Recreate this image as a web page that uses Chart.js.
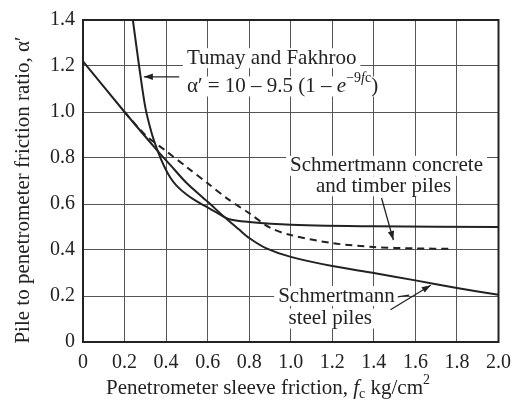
<!DOCTYPE html>
<html>
<head>
    <meta charset="UTF-8">
    <title>Pile to penetrometer friction ratio</title>
    <script src="https://cdn.jsdelivr.net/npm/chart.js@4/dist/chart.umd.min.js"></script>
    <style type="text/css">
        body { margin: 0; background: #fff; }
        #box { width: 520px; height: 404px; }
    </style>
</head>
<body>
    <div id="box"><canvas id="_canvas"></canvas></div>
    <script type="text/javascript">
        // values
        var xTicks = [0, 0.2, 0.4, 0.6, 0.8, 1.0, 1.2, 1.4, 1.6, 1.8, 2.0];
        var yTicks = [0, 0.2, 0.4, 0.6, 0.8, 1.0, 1.2, 1.4];

        // Tumay and Fakhroo
        var tumayX = [0.24, 0.27, 0.30, 0.33, 0.36, 0.39, 0.42, 0.45, 0.50, 0.55, 0.64, 0.70, 0.80, 1.00, 1.40, 2.00];
        var tumayY = [1.40, 1.20, 1.02, 0.91, 0.83, 0.765, 0.715, 0.68, 0.64, 0.61, 0.565, 0.535, 0.522, 0.51, 0.503, 0.50];

        // Schmertmann steel piles
        var steelX = [0, 0.20, 0.36, 0.42, 0.50, 0.60, 0.675, 0.75, 0.80, 0.88, 1.00, 1.20, 1.40, 1.60, 1.80, 2.00];
        var steelY = [1.22, 1.00, 0.83, 0.77, 0.69, 0.61, 0.548, 0.49, 0.452, 0.408, 0.37, 0.33, 0.30, 0.268, 0.235, 0.205];

        // Schmertmann concrete and timber piles (dashed)
        var concreteX = [0.20, 0.30, 0.40, 0.50, 0.60, 0.70, 0.80, 0.90, 1.00, 1.20, 1.40, 1.60, 1.77];
        var concreteY = [1.00, 0.90, 0.83, 0.76, 0.69, 0.62, 0.56, 0.497, 0.465, 0.43, 0.413, 0.407, 0.405];

        function pts(xs, ys) {
            var out = [];
            for (var i = 0; i < xs.length; i++) out.push({ x: xs[i], y: ys[i] });
            return out;
        }

        var FONT = "'Liberation Serif', 'Times New Roman', serif";
        var INK = "#222";

        function lineSet(label, xs, ys, dash) {
            return {
                label: label,
                data: pts(xs, ys),
                borderColor: INK,
                borderWidth: 2,
                borderDash: dash || [],
                pointRadius: 0,
                fill: false,
                tension: 0.3
            };
        }

        // text pieces: [text, style]; style 'n' normal, 'i' italic, 'sub', 'sup', 'isup'
        function fontFor(style, size) {
            var s = size;
            if (style == 'sub' || style == 'sup' || style == 'isup') s = Math.round(size * 0.66);
            var it = (style == 'i' || style == 'isup') ? 'italic ' : '';
            return it + s + "px " + FONT;
        }
        function runWidth(ctx, parts, size) {
            var w = 0;
            parts.forEach(function (p) {
                ctx.font = fontFor(p[1], size);
                w += ctx.measureText(p[0]).width;
            });
            return w;
        }
        function drawRun(ctx, parts, x, y, size, align) {
            var w = runWidth(ctx, parts, size);
            var cx = x;
            if (align == 'center') cx = x - w / 2;
            ctx.textBaseline = 'middle';
            ctx.textAlign = 'left';
            parts.forEach(function (p) {
                ctx.font = fontFor(p[1], size);
                var dy = 0;
                if (p[1] == 'sub') dy = size * 0.28;
                if (p[1] == 'sup' || p[1] == 'isup') dy = -size * 0.38;
                ctx.fillText(p[0], cx, y + dy);
                cx += ctx.measureText(p[0]).width;
            });
            return w;
        }

        function arrow(ctx, x1, y1, x2, y2) {
            ctx.beginPath();
            ctx.moveTo(x1, y1);
            ctx.lineTo(x2, y2);
            ctx.stroke();
            var a = Math.atan2(y2 - y1, x2 - x1);
            var L = 9, W = 3.2;
            ctx.beginPath();
            ctx.moveTo(x2, y2);
            ctx.lineTo(x2 - L * Math.cos(a) + W * Math.sin(a), y2 - L * Math.sin(a) - W * Math.cos(a));
            ctx.lineTo(x2 - L * Math.cos(a) - W * Math.sin(a), y2 - L * Math.sin(a) + W * Math.cos(a));
            ctx.closePath();
            ctx.fill();
        }

        // annotation positions in data units (f, alpha)
        var notes = [
            { parts: [["Tumay and Fakhroo", 'n']], f: 0.50, a: 1.234, align: 'left' },
            { parts: [["\u03b1\u2032 = 10 \u2013 9.5 (1 \u2013 ", 'n'], ["e", 'i'], ["\u22129", 'sup'], ["f", 'isup'], ["c", 'sup'], [")", 'n']], f: 0.50, a: 1.111, align: 'left' },
            { parts: [["Schmertmann concrete", 'n']], f: 1.461, a: 0.766, align: 'center' },
            { parts: [["and timber piles", 'n']], f: 1.447, a: 0.677, align: 'center' },
            { parts: [["Schmertmann", 'n']], f: 1.22, a: 0.20, align: 'center' },
            { parts: [["steel piles", 'n']], f: 1.19, a: 0.102, align: 'center' }
        ];
        var arrows = [
            [0.463, 1.153, 0.293, 1.153],
            [1.437, 0.626, 1.494, 0.443],
            [1.48, 0.14, 1.674, 0.247]
        ];
        var NOTE_SIZE = 21;

        var notePlugin = {
            id: 'notes',
            beforeDatasetsDraw: function (chart) {
                var ctx = chart.ctx, xs = chart.scales.x, ys = chart.scales.y;
                ctx.save();
                ctx.fillStyle = '#fff';
                notes.forEach(function (n) {
                    var w = runWidth(ctx, n.parts, NOTE_SIZE);
                    var x = xs.getPixelForValue(n.f), y = ys.getPixelForValue(n.a);
                    if (n.align == 'center') x -= w / 2;
                    ctx.fillRect(x - 4, y - 10, w + 8, 20);
                });
                ctx.restore();
            },
            afterDatasetsDraw: function (chart) {
                var ctx = chart.ctx, xs = chart.scales.x, ys = chart.scales.y;
                ctx.save();
                ctx.fillStyle = INK;
                ctx.strokeStyle = INK;
                ctx.lineWidth = 1.3;
                notes.forEach(function (n) {
                    drawRun(ctx, n.parts, xs.getPixelForValue(n.f), ys.getPixelForValue(n.a), NOTE_SIZE, n.align);
                });
                arrows.forEach(function (r) {
                    arrow(ctx, xs.getPixelForValue(r[0]), ys.getPixelForValue(r[1]),
                        xs.getPixelForValue(r[2]), ys.getPixelForValue(r[3]));
                });
                // little dash after "Schmertmann"
                ctx.beginPath();
                ctx.moveTo(xs.getPixelForValue(1.515), ys.getPixelForValue(0.196));
                ctx.lineTo(xs.getPixelForValue(1.57), ys.getPixelForValue(0.204));
                ctx.stroke();

                // frame
                var ca = chart.chartArea;
                ctx.lineWidth = 2;
                ctx.strokeRect(ca.left, ca.top, ca.right - ca.left, ca.bottom - ca.top);

                // axis titles
                drawRun(ctx, [["Penetrometer sleeve friction, ", 'n'], ["f", 'i'], ["c", 'sub'], [" kg/cm", 'n'], ["2", 'sup']],
                    268, 388, 21, 'center');
                ctx.translate(23, 190);
                ctx.rotate(-Math.PI / 2);
                drawRun(ctx, [["Pile to penetrometer friction ratio, \u03b1\u2032", 'n']], 0, 0, 21, 'center');
                ctx.restore();
            }
        };

        var ctx = document.getElementById("_canvas").getContext("2d");
        var chart = new Chart(ctx, {
            type: 'line',
            data: {
                datasets: [
                    lineSet("Tumay and Fakhroo", tumayX, tumayY),
                    lineSet("Schmertmann steel piles", steelX, steelY),
                    lineSet("Schmertmann concrete and timber piles", concreteX, concreteY, [7, 5])
                ]
            },
            options: {
                responsive: true,
                maintainAspectRatio: false,
                animation: false,
                clip: false,
                layout: { padding: { top: 13, right: 13, left: 0, bottom: 0 } },
                plugins: { legend: { display: false }, tooltip: { enabled: false } },
                scales: {
                    x: {
                        type: 'linear',
                        min: 0, max: 2.0,
                        afterBuildTicks: function (s) { s.ticks = xTicks.map(function (v) { return { value: v }; }); },
                        afterFit: function (s) { s.height = 62; },
                        ticks: {
                            color: INK, padding: 9, maxRotation: 0, autoSkip: false,
                            font: { family: FONT, size: 20 },
                            callback: function (v) { return v === 0 ? '0' : v.toFixed(1); }
                        },
                        grid: { color: '#555', lineWidth: 1, drawTicks: false },
                        border: { display: false }
                    },
                    y: {
                        min: 0, max: 1.4,
                        afterBuildTicks: function (s) { s.ticks = yTicks.map(function (v) { return { value: v }; }); },
                        afterFit: function (s) { s.width = 83; },
                        ticks: {
                            color: INK, padding: 8, autoSkip: false,
                            font: { family: FONT, size: 20 },
                            callback: function (v) { return v === 0 ? '0' : v.toFixed(1); }
                        },
                        grid: { color: '#555', lineWidth: 1, drawTicks: false },
                        border: { display: false }
                    }
                }
            },
            plugins: [notePlugin]
        });
    </script>
</body>
</html>
